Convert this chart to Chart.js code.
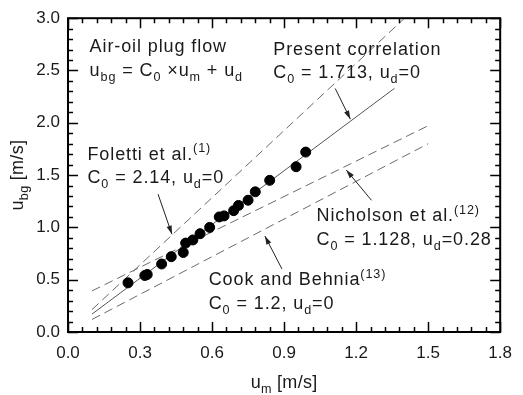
<!DOCTYPE html>
<html>
<head>
<meta charset="utf-8">
<script src="https://cdn.jsdelivr.net/npm/chart.js@4"></script>
<style>
  body { margin: 0; background: #fff; }
</style>
</head>
<body>
<canvas id="myChart" width="523" height="395"></canvas>
<script>
// measured points (um, ubg)
const umData = [0.25, 0.32, 0.33, 0.39, 0.43, 0.48, 0.49, 0.52, 0.55, 0.59, 0.63, 0.65, 0.69, 0.71, 0.75, 0.78, 0.84, 0.95, 0.99];
const ubgData = [0.47, 0.54, 0.55, 0.65, 0.72, 0.76, 0.85, 0.88, 0.94, 1.00, 1.10, 1.11, 1.16, 1.21, 1.26, 1.34, 1.45, 1.58, 1.72];

// correlation lines, end points
const folettiX = [0.1, 1.5];
const folettiY = [0.214, 3.21];
const presentX = [0.1, 1.36];
const presentY = [0.171, 2.33];
const nicholsonX = [0.1, 1.5];
const nicholsonY = [0.393, 1.972];
const cookX = [0.1, 1.5];
const cookY = [0.12, 1.8];

const xTicks = [0, 0.3, 0.6, 0.9, 1.2, 1.5, 1.8];
const yTicks = [0, 0.5, 1.0, 1.5, 2.0, 2.5, 3.0];

const FONT = '"Liberation Sans", Arial, sans-serif';
const TXT = '#1a1a1a';

function pts(xs, ys) {
  return xs.map((x, i) => ({ x: x, y: ys[i] }));
}

// text blocks : [x, y] in data units for the first baseline, then lines
const notes = [
  { x: 0.09, y: 2.676, lines: [
    [['Air-oil plug flow', '']],
    [['u', ''], ['bg', 'sub'], [' = C', ''], ['0', 'sub'], [' \u00d7u', ''], ['m', 'sub'], [' + u', ''], ['d', 'sub']]
  ]},
  { x: 0.855, y: 2.65, lines: [
    [['Present correlation', '']],
    [['C', ''], ['0', 'sub'], [' = 1.713, u', ''], ['d', 'sub'], ['=0', '']]
  ]},
  { x: 0.081, y: 1.647, lines: [
    [['Foletti et al.', ''], ['(1)', 'sup']],
    [['C', ''], ['0', 'sub'], [' = 2.14, u', ''], ['d', 'sub'], ['=0', '']]
  ]},
  { x: 1.035, y: 1.06, lines: [
    [['Nicholson et al.', ''], ['(12)', 'sup']],
    [['C', ''], ['0', 'sub'], [' = 1.128, u', ''], ['d', 'sub'], ['=0.28', '']]
  ]},
  { x: 0.586, y: 0.445, lines: [
    [['Cook and Behnia', ''], ['(13)', 'sup']],
    [['C', ''], ['0', 'sub'], [' = 1.2, u', ''], ['d', 'sub'], ['=0', '']]
  ]}
];

// arrows : from -> to (data units)
const arrows = [
  [1.113, 2.328, 1.176, 2.035],
  [0.375, 1.318, 0.433, 0.934],
  [1.264, 1.259, 1.159, 1.549],
  [0.891, 0.603, 0.82, 0.918]
];

function richWidth(ctx, parts, size) {
  let w = 0;
  parts.forEach(p => {
    const s = p[1] ? size * 0.7 : size;
    ctx.font = s + 'px ' + FONT;
    w += ctx.measureText(p[0]).width;
  });
  return w;
}

function drawRich(ctx, parts, x, y, size) {
  let cx = x;
  parts.forEach(p => {
    let s = size, dy = 0;
    if (p[1] == 'sub') { s = size * 0.7; dy = size * 0.28; }
    if (p[1] == 'sup') { s = size * 0.7; dy = -size * 0.42; }
    ctx.font = s + 'px ' + FONT;
    ctx.fillText(p[0], cx, y + dy);
    cx += ctx.measureText(p[0]).width;
  });
}

const extras = {
  id: 'extras',
  afterDraw(chart) {
    const ctx = chart.ctx;
    const xs = chart.scales.x, ys = chart.scales.y;
    const a = chart.chartArea;
    ctx.save();

    // ticks pointing inward, on all four sides
    ctx.strokeStyle = '#000';
    ctx.lineWidth = 1.5;
    for (let i = 0; i <= 30; i++) {
      const px = Math.round(xs.getPixelForValue(i * 0.06)) + 0.5;
      const len = i % 5 == 0 ? 10 : 5;
      ctx.beginPath();
      ctx.moveTo(px, a.bottom); ctx.lineTo(px, a.bottom - len);
      ctx.moveTo(px, a.top); ctx.lineTo(px, a.top + len);
      ctx.stroke();
      const py = Math.round(ys.getPixelForValue(i * 0.1)) + 0.5;
      ctx.beginPath();
      ctx.moveTo(a.left, py); ctx.lineTo(a.left + len, py);
      ctx.moveTo(a.right, py); ctx.lineTo(a.right - len, py);
      ctx.stroke();
    }
    ctx.lineWidth = 2;
    ctx.strokeRect(a.left, a.top, a.right - a.left, a.bottom - a.top);

    // arrows
    ctx.strokeStyle = '#222';
    ctx.fillStyle = '#222';
    ctx.lineWidth = 1;
    arrows.forEach(r => {
      const x1 = xs.getPixelForValue(r[0]), y1 = ys.getPixelForValue(r[1]);
      const x2 = xs.getPixelForValue(r[2]), y2 = ys.getPixelForValue(r[3]);
      const ang = Math.atan2(y2 - y1, x2 - x1);
      ctx.beginPath();
      ctx.moveTo(x1, y1); ctx.lineTo(x2, y2);
      ctx.stroke();
      ctx.beginPath();
      ctx.moveTo(x2, y2);
      ctx.lineTo(x2 - 9 * Math.cos(ang - 0.3), y2 - 9 * Math.sin(ang - 0.3));
      ctx.lineTo(x2 - 9 * Math.cos(ang + 0.3), y2 - 9 * Math.sin(ang + 0.3));
      ctx.closePath();
      ctx.fill();
    });

    // text blocks
    ctx.fillStyle = TXT;
    ctx.textBaseline = 'alphabetic';
    ctx.textAlign = 'left';
    ctx.letterSpacing = '0.9px';
    notes.forEach(n => {
      const px = xs.getPixelForValue(n.x), py = ys.getPixelForValue(n.y);
      n.lines.forEach((ln, k) => drawRich(ctx, ln, px, py + k * 23.5, 18));
    });

    // axis titles
    ctx.letterSpacing = '0.3px';
    const xt = [['u', ''], ['m', 'sub'], [' [m/s]', '']];
    const w1 = richWidth(ctx, xt, 18);
    drawRich(ctx, xt, (a.left + a.right) / 2 - w1 / 2, 388, 18);
    const yt = [['u', ''], ['bg', 'sub'], [' [m/s]', '']];
    const w2 = richWidth(ctx, yt, 18);
    ctx.translate(23, (a.top + a.bottom) / 2);
    ctx.rotate(-Math.PI / 2);
    drawRich(ctx, yt, -w2 / 2, 0, 18);
    ctx.restore();
  }
};

const lineStyle = {
  showLine: true,
  pointRadius: 0,
  borderWidth: 1,
  fill: false
};

const data = {
  datasets: [
    { label: 'data', data: pts(umData, ubgData), backgroundColor: '#000', borderColor: '#000', pointRadius: 5, showLine: false },
    Object.assign({ label: 'Foletti', data: pts(folettiX, folettiY), borderColor: '#6a6a6a', borderDash: [9, 5] }, lineStyle),
    Object.assign({ label: 'Present', data: pts(presentX, presentY), borderColor: '#555' }, lineStyle),
    Object.assign({ label: 'Nicholson', data: pts(nicholsonX, nicholsonY), borderColor: '#6a6a6a', borderDash: [9, 5] }, lineStyle),
    Object.assign({ label: 'Cook', data: pts(cookX, cookY), borderColor: '#6a6a6a', borderDash: [9, 5] }, lineStyle)
  ]
};

const config = {
  type: 'scatter',
  data: data,
  options: {
    responsive: false,
    devicePixelRatio: 1,
    animation: false,
    layout: { padding: { top: 15, right: 13, left: 0, bottom: 0 } },
    plugins: { legend: { display: false }, tooltip: { enabled: false } },
    scales: {
      x: {
        type: 'linear', min: 0, max: 1.8,
        afterBuildTicks: s => { s.ticks = xTicks.map(v => ({ value: v })); },
        afterFit: s => { s.height = 63; },
        grid: { display: false, drawTicks: false },
        border: { display: false },
        ticks: { autoSkip: false, maxRotation: 0, padding: 11, color: TXT, font: { family: FONT, size: 17 }, callback: v => v.toFixed(1) }
      },
      y: {
        type: 'linear', min: 0, max: 3.0,
        afterBuildTicks: s => { s.ticks = yTicks.map(v => ({ value: v })); },
        afterFit: s => { s.width = 68; },
        grid: { display: false, drawTicks: false },
        border: { display: false },
        ticks: { autoSkip: false, padding: 8, color: TXT, font: { family: FONT, size: 17 }, callback: v => v.toFixed(1) }
      }
    }
  },
  plugins: [extras]
};

const myChart = new Chart(document.getElementById('myChart'), config);
</script>
</body>
</html>
